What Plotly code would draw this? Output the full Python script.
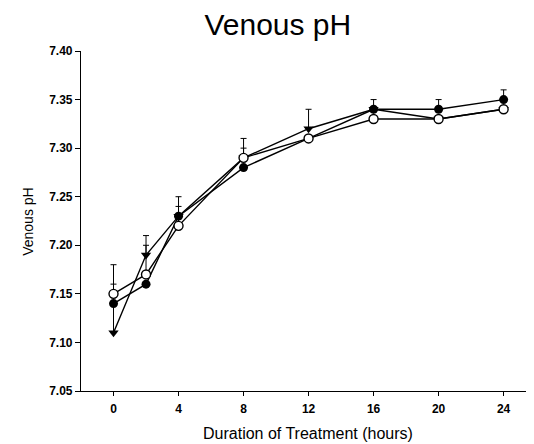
import plotly.graph_objects as go

hours = [0, 2, 4, 8, 12, 16, 20, 24]

# Series values (venous pH)
triangle_vals = [7.11, 7.19, 7.23, 7.29, 7.32, 7.34, 7.33, 7.34]
open_vals = [7.15, 7.17, 7.22, 7.29, 7.31, 7.33, 7.33, 7.34]
filled_vals = [7.14, 7.16, 7.23, 7.28, 7.31, 7.34, 7.34, 7.35]

# Upper error (SEM) values
triangle_err = [0.05, 0.02, 0.02, 0.02, 0.02, 0.01, 0.0, 0.0]
filled_err = [0.0, 0.0, 0.0, 0.0, 0.0, 0.0, 0.01, 0.01]
open_err = [0.03, 0.03, 0.02, 0.01, 0.0, 0.0, 0.0, 0.0]

x_ticks = [0, 4, 8, 12, 16, 20, 24]
y_ticks = [7.05, 7.10, 7.15, 7.20, 7.25, 7.30, 7.35, 7.40]

FONT = "Liberation Sans, Arial, sans-serif"

fig = go.Figure()

def err(vals):
    return dict(type="data", symmetric=False, array=vals,
                arrayminus=[0] * len(vals), color="black",
                thickness=1, width=3)

fig.add_trace(go.Scatter(
    x=hours, y=triangle_vals, mode="lines+markers", name="triangle",
    line=dict(color="black", width=1.4),
    marker=dict(symbol="triangle-down", size=9, color="black"),
    error_y=err(triangle_err)))

fig.add_trace(go.Scatter(
    x=hours, y=filled_vals, mode="lines+markers", name="filled",
    line=dict(color="black", width=1.4),
    marker=dict(symbol="circle", size=9, color="black"),
    error_y=err(filled_err)))

fig.add_trace(go.Scatter(
    x=hours, y=open_vals, mode="lines+markers", name="open",
    line=dict(color="black", width=1.4),
    marker=dict(symbol="circle", size=9, color="white",
                line=dict(color="black", width=1.4)),
    error_y=err(open_err)))

fig.update_layout(
    width=526, height=436,
    margin=dict(l=73, r=6, t=43, b=53),
    paper_bgcolor="white", plot_bgcolor="white",
    showlegend=False,
    font=dict(family=FONT, color="black"),
    title=dict(text="Venous pH", x=0.513, xanchor="center",
               y=0.962, yanchor="middle",
               font=dict(family=FONT, size=30, color="black")),
    annotations=[
        dict(text="Duration of Treatment (hours)", xref="paper", yref="paper",
             x=0.508, y=-0.124, xanchor="center", yanchor="middle",
             showarrow=False, font=dict(family=FONT, size=16)),
        dict(text="Venous pH", xref="paper", yref="paper",
             x=-0.119, y=0.5, xanchor="center", yanchor="middle",
             textangle=-90, showarrow=False, font=dict(family=FONT, size=14)),
    ],
)

fig.update_xaxes(
    range=[-2, 25.5], tickvals=x_ticks, ticktext=[str(v) for v in x_ticks],
    showline=True, linecolor="black", linewidth=1.2,
    ticks="outside", ticklen=4, tickcolor="black", tickwidth=1,
    showgrid=False, zeroline=False, automargin=False,
    tickfont=dict(family=FONT, size=12, weight="bold"),
    ticklabelstandoff=2,
)

fig.update_yaxes(
    range=[7.05, 7.40], tickvals=y_ticks,
    ticktext=[f"{v:.2f}" for v in y_ticks],
    showline=True, linecolor="black", linewidth=1.2,
    ticks="outside", ticklen=5, tickcolor="black", tickwidth=1,
    showgrid=False, zeroline=False, automargin=False,
    tickfont=dict(family=FONT, size=12, weight="bold"),
)

fig.write_html("out.html")
